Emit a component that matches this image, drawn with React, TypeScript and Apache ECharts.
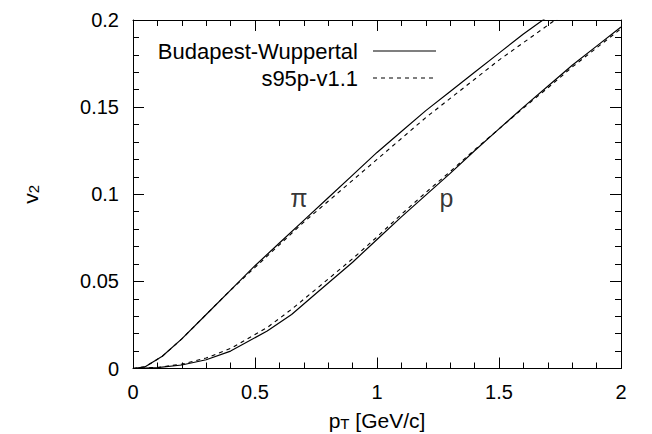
import React, { useEffect, useRef } from "react";
import * as echarts from "echarts";

const pionX = [0, 0.05, 0.12, 0.2, 0.3, 0.4, 0.5, 0.6, 0.7, 0.8, 0.9, 1.0, 1.1, 1.2, 1.3, 1.4, 1.5, 1.6, 1.7, 1.8];
const pionBW = [0, 0.001, 0.007, 0.017, 0.031, 0.045, 0.059, 0.072, 0.085, 0.098, 0.111, 0.124, 0.136, 0.148, 0.159, 0.17, 0.181, 0.192, 0.202, 0.212];
const pionS95 = [0, 0.001, 0.007, 0.017, 0.031, 0.045, 0.058, 0.071, 0.084, 0.096, 0.108, 0.12, 0.132, 0.144, 0.155, 0.166, 0.177, 0.187, 0.197, 0.207];

const protonX = [0, 0.1, 0.2, 0.3, 0.4, 0.55, 0.65, 0.75, 0.9, 1.0, 1.1, 1.2, 1.3, 1.4, 1.5, 1.6, 1.7, 1.8, 1.9, 2.0];
const protonBW = [0, 0.0005, 0.002, 0.005, 0.01, 0.0215, 0.031, 0.043, 0.061, 0.074, 0.087, 0.0995, 0.112, 0.125, 0.1375, 0.15, 0.162, 0.174, 0.185, 0.196];
const protonS95 = [0, 0.0006, 0.0025, 0.006, 0.0115, 0.0235, 0.034, 0.0455, 0.063, 0.0755, 0.0885, 0.101, 0.113, 0.1255, 0.1375, 0.1495, 0.161, 0.173, 0.184, 0.195];

const seriesNames = ["Budapest-Wuppertal", "s95p-v1.1"];
const particleLabels = [
  { x: 0.68, y: 0.098, text: "π" },
  { x: 1.285, y: 0.098, text: "p" },
];

const FONT = "Liberation Sans, Arial, Helvetica, sans-serif";

const zip = (xs: number[], ys: number[]) => xs.map((x, i) => [x, ys[i]]);

export default function App() {
  const ref = useRef<HTMLDivElement>(null);
  useEffect(() => {
    if (!ref.current) return;
    const chart = echarts.init(ref.current, undefined, { renderer: "svg" });
    const axisCommon = {
      axisLine: { show: true, onZero: false, lineStyle: { color: "#000", width: 1 } },
      axisTick: { show: true, inside: true, length: 11, lineStyle: { color: "#000", width: 1 } },
      minorTick: { show: true, splitNumber: 5, length: 6, lineStyle: { color: "#000", width: 1 } },
      splitLine: { show: false },
      minorSplitLine: { show: false },
    };
    const xBase = { type: "value", min: 0, max: 2, interval: 0.5, ...axisCommon };
    const yBase = { type: "value", min: 0, max: 0.2, interval: 0.05, ...axisCommon };
    const solid = { color: "#000", width: 1.2, type: "solid" };
    const dashed = { color: "#000", width: 1.1, type: [4, 4] };
    const lineSeries = (name: string, xs: number[], ys: number[], style: any) => ({
      type: "line",
      name,
      data: zip(xs, ys),
      symbol: "none",
      lineStyle: style,
      clip: true,
      silent: true,
    });
    const rich = {
      a: { fontSize: 21, fontFamily: FONT, color: "#000", verticalAlign: "bottom", lineHeight: 26 },
      b: { fontSize: 15, fontFamily: FONT, color: "#000", verticalAlign: "bottom", lineHeight: 26 },
    };
    chart.setOption({
      animation: false,
      backgroundColor: "#fff",
      textStyle: { fontFamily: FONT, color: "#000" },
      grid: { left: 125, right: 39, top: 12, bottom: 73.5 },
      xAxis: [
        {
          ...xBase,
          position: "bottom",
          axisLabel: { show: true, margin: 13, fontSize: 20, color: "#000", fontFamily: FONT },
          name: "{a|p}{b|T}{a| [GeV/c]}",
          nameLocation: "middle",
          nameGap: 36,
          nameTextStyle: { rich },
        },
        { ...xBase, position: "top", axisLabel: { show: false } },
      ],
      yAxis: [
        {
          ...yBase,
          position: "left",
          axisLabel: { show: true, margin: 14, fontSize: 20, color: "#000", fontFamily: FONT },
          name: "{a|v}{b|2}",
          nameLocation: "middle",
          nameRotate: 90,
          nameGap: 92,
          nameTextStyle: { rich },
        },
        { ...yBase, position: "right", axisLabel: { show: false } },
      ],
      series: [
        lineSeries(seriesNames[0], pionX, pionBW, solid),
        lineSeries(seriesNames[1], pionX, pionS95, dashed),
        lineSeries(seriesNames[0], protonX, protonBW, solid),
        lineSeries(seriesNames[1], protonX, protonS95, dashed),
        {
          type: "scatter",
          name: "labels",
          data: particleLabels.map((d) => [d.x, d.y, d.text]),
          symbolSize: 0,
          silent: true,
          label: {
            show: true,
            position: "inside",
            formatter: (p: any) => p.data[2],
            fontSize: 25,
            fontFamily: FONT,
            color: "#000",
          },
        },
      ],
      graphic: [
        {
          type: "text",
          x: 350,
          y: 43,
          style: { text: seriesNames[0], fontSize: 22, fontFamily: FONT, fill: "#000", align: "right", verticalAlign: "middle" },
        },
        {
          type: "line",
          shape: { x1: 365, y1: 43, x2: 428, y2: 43 },
          style: { stroke: "#000", lineWidth: 1.2 },
        },
        {
          type: "text",
          x: 350,
          y: 70,
          style: { text: seriesNames[1], fontSize: 22, fontFamily: FONT, fill: "#000", align: "right", verticalAlign: "middle" },
        },
        {
          type: "line",
          shape: { x1: 365, y1: 70, x2: 428, y2: 70 },
          style: { stroke: "#000", lineWidth: 1.1, lineDash: [4, 4] },
        },
      ],
    });
    return () => chart.dispose();
  }, []);
  return <div ref={ref} style={{ width: 652, height: 434 }} />;
}
